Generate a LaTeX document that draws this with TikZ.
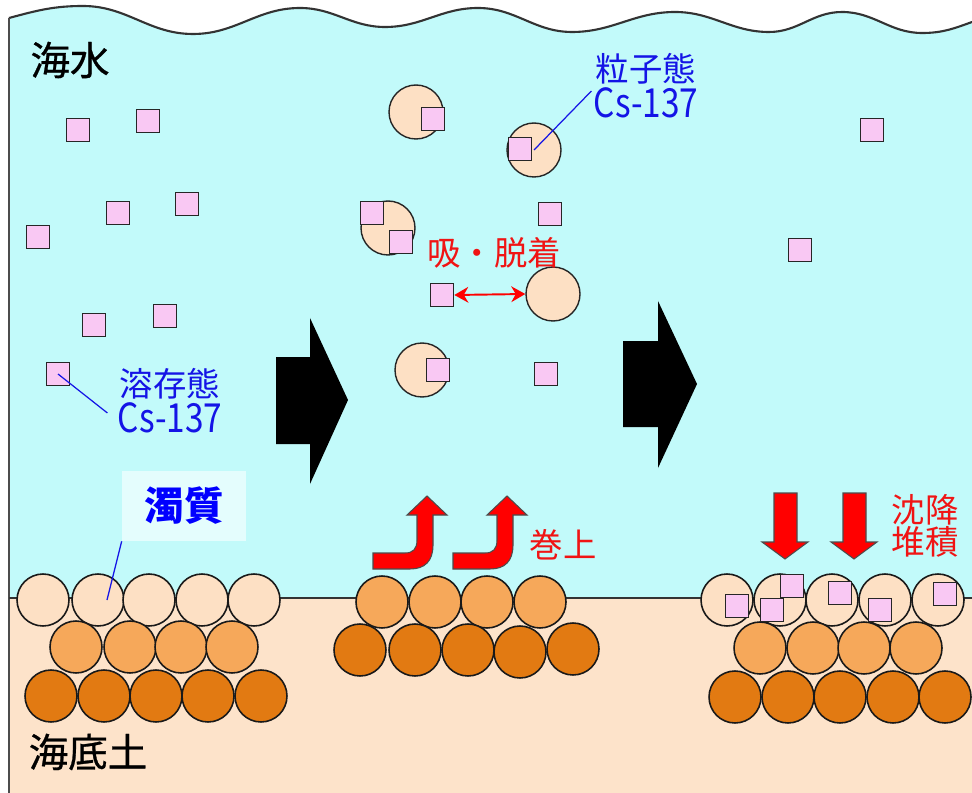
\documentclass[tikz,border=0pt]{standalone}
\usepackage{graphicx}
\usepackage{fontspec}
\setmainfont{Noto Sans CJK JP}
\newfontfamily\heavyjp[FakeBold=0.7]{Noto Sans CJK JP}
\usetikzlibrary{arrows.meta}

\definecolor{seawater}{HTML}{C2FAFA}
\definecolor{seabed}{HTML}{FDE3CA}
\definecolor{finesed}{HTML}{FDE0C4}
\definecolor{midsed}{HTML}{F6A85A}
\definecolor{coarsesed}{HTML}{E27A12}
\definecolor{cspink}{HTML}{F9C8F3}
\definecolor{lblblue}{HTML}{1414E6}
\definecolor{lblred}{HTML}{F01414}

\def\wave{(9,18) to[out=15,in=180] (83,6) to[out=0,in=180] (193,34)
  to[out=0,in=180] (300,8) to[out=0,in=180] (385,27) to[out=0,in=180] (478,8)
  to[out=0,in=180] (572,32) to[out=0,in=180] (675,12) to[out=0,in=180] (769,32)
  to[out=0,in=180] (842,12) to[out=0,in=180] (922,33) to[out=0,in=200] (972,22)}
\newcommand{\cslabel}{\scalebox{1}[1.2]{Cs-137}}

\begin{document}
\begin{tikzpicture}[x=0.02cm,y=-0.02cm]
    \tikzstyle{cs}=[draw=black!85, line width=0.9pt, fill=cspink, minimum size=0.46cm, inner sep=0pt]
    \tikzstyle{particle}=[circle, draw=black!85, line width=0.8pt, fill=finesed, minimum size=1.08cm, inner sep=0pt]
    \tikzstyle{grain}=[circle, draw=black!90, line width=0.9pt, minimum size=1.04cm, inner sep=0pt]
    \tikzstyle{blacklbl}=[font=\heavyjp\fontsize{22.5}{26}\selectfont, inner sep=1pt]
    \tikzstyle{bluelbl}=[text=lblblue, font=\fontsize{19}{18}\selectfont, inner sep=0pt, align=center]
    \tikzstyle{redlbl}=[text=lblred, font=\fontsize{19}{18}\selectfont, inner sep=1pt]
    \tikzstyle{flow}=[fill=black]
    \tikzstyle{redarrow}=[fill=red, draw=black!70, line width=0.6pt]

    \useasboundingbox (0,0) rectangle (972,793);
    \fill[white] (0,0) rectangle (972,793);

    % sea water and sea bed
    \fill[seawater] \wave -- (972,598) -- (9,598) -- cycle;
    \fill[seabed] (9,598) rectangle (972,793);
    \draw[black!80, line width=1.2pt] \wave;
    \draw[black!70, line width=0.9pt] (9,18) -- (9,793);
    \draw[black!80, line width=0.8pt] (9,598) -- (972,598);

    % large flow arrows
    \fill[flow] (276,357) -- (310,357) -- (310,318) -- (348,400) -- (310,484)
        -- (310,444) -- (276,444) -- cycle;
    \fill[flow] (623,341) -- (658,341) -- (658,301) -- (697,384) -- (658,468)
        -- (658,427) -- (623,427) -- cycle;

    % dissolved Cs-137
    \foreach \x/\y [count=\i] in {78/130, 148/121, 118/213, 187/204, 38/237,
                                  94/325, 165/316, 58/374}
        \node[cs] (sd-\i) at (\x,\y) {};

    % suspended particles and the Cs-137 on them
    \node[particle] (pc-1) at (416,112) {};
    \node[particle] (pc-2) at (534,150) {};
    \node[particle] (pc-3) at (388,228) {};
    \node[particle] (pc-4) at (553,294) {};
    \node[particle] (pc-5) at (422,370) {};
    \foreach \x/\y [count=\i] in {433/119, 520/149, 372/213, 401/242, 438/370,
                                  550/214, 442/295, 546/374, 872/130, 800/250}
        \node[cs] (sp-\i) at (\x,\y) {};

    % bed sediment piles
    \foreach \x [count=\i] in {43,98,149,202,254}
        \node[grain, fill=finesed] (L1-\i) at (\x,600) {};
    \foreach \x [count=\i] in {76,130,181,232}
        \node[grain, fill=midsed] (L2-\i) at (\x,647) {};
    \foreach \x [count=\i] in {51,104,156,208,261}
        \node[grain, fill=coarsesed] (L3-\i) at (\x,696) {};

    \foreach \x [count=\i] in {382,435,487,540}
        \node[grain, fill=midsed] (M2-\i) at (\x,602) {};
    \foreach \x/\y [count=\i] in {360/650, 415/650, 468/650, 520/652, 573/649}
        \node[grain, fill=coarsesed] (M3-\i) at (\x,\y) {};

    \foreach \x [count=\i] in {727,780,832,885,938}
        \node[grain, fill=finesed] (R1-\i) at (\x,600) {};
    \foreach \x [count=\i] in {760,813,864,916}
        \node[grain, fill=midsed] (R2-\i) at (\x,648) {};
    \foreach \x [count=\i] in {735,788,840,893,945}
        \node[grain, fill=coarsesed] (R3-\i) at (\x,697) {};
    \foreach \x/\y [count=\i] in {737/606, 772/610, 792/586, 840/593, 880/610, 945/594}
        \node[cs] (sb-\i) at (\x,\y) {};

    % resuspension and settling arrows
    \foreach \dx in {0,80}
        \filldraw[redarrow, shift={(\dx,0)}] (373,553) -- (405,553)
            .. controls (413,553) and (417,549) .. (417,540) -- (417,515)
            -- (407,515) -- (427,496) -- (447,515) -- (433,515) -- (433,545)
            .. controls (433,561) and (425,569) .. (410,569) -- (373,569) -- cycle;
    \foreach \dx in {0,69}
        \filldraw[redarrow, shift={(\dx,0)}] (774,493) -- (797,493) -- (797,542)
            -- (808,542) -- (785,559) -- (762,542) -- (774,542) -- cycle;

    % labels
    \node[blacklbl] (sea) at (70,60) {海水};
    \node[blacklbl] (bed) at (88,752) {海底土};
    \node[bluelbl] (par) at (646,86) {粒子態\\[1pt]\cslabel};
    \node[bluelbl] (dis) at (170,401) {溶存態\\[1pt]\cslabel};
    \node[redlbl] (sorp) at (494,253) {吸・脱着};
    \node[redlbl] (resus) at (563,545) {巻上};
    \node[redlbl, align=center] (settle) at (925,526) {沈降\\堆積};
    \node[fill=seawater!45!white, minimum width=2.48cm, minimum height=1.4cm,
          text=blue, font=\fontsize{22.5}{26}\bfseries\selectfont] (tur) at (184,506) {濁質};

    \draw[lblblue, line width=0.7pt] (sd-8.center) -- ([xshift=-0.2cm,yshift=-0.24cm]dis.west);
    \draw[lblblue, line width=0.7pt] (pc-2.center) -- ([xshift=-0.04cm,yshift=-0.1cm]par.west);
    \draw[lblblue, line width=0.7pt] (tur.south west) -- ([xshift=0.18cm]L1-2.center);
    \draw[red, line width=1.1pt, {Stealth[length=8pt,width=9pt]}-{Stealth[length=8pt,width=9pt]}]
        (sp-7.east) -- (pc-4.west);
\end{tikzpicture}
\end{document}
